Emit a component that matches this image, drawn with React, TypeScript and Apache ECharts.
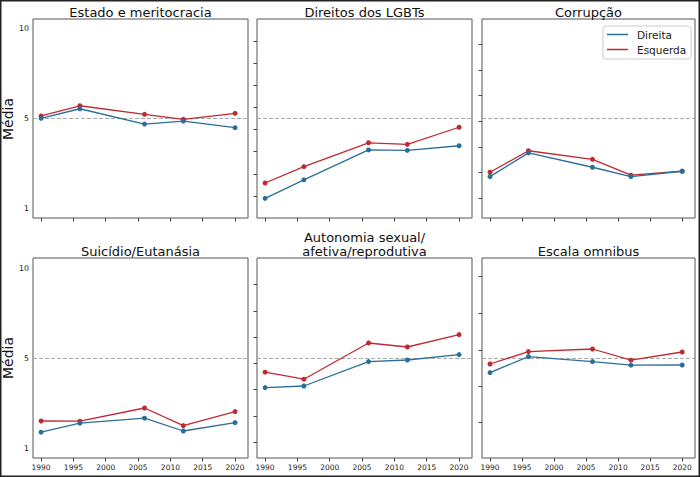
import React, { useEffect, useRef } from "react";
import * as echarts from "echarts";

const years = [1990, 1996, 2006, 2012, 2020];
const xTickValues = [1990, 1995, 2000, 2005, 2010, 2015, 2020];
const yLabelValues = [1, 5.5, 10];
const yLabelTexts = ["1", "5", "10"];
const midLine = 5.5;

const titles = [
  "Estado e meritocracia",
  "Direitos dos LGBTs",
  "Corrupção",
  "Suicídio/Eutanásia",
  "Autonomia sexual/\nafetiva/reprodutiva",
  "Escala omnibus",
];

const direitaEstado = [5.51, 5.99, 5.22, 5.37, 5.04];
const esquerdaEstado = [5.63, 6.14, 5.71, 5.46, 5.76];
const direitaLGBT = [1.49, 2.42, 3.92, 3.9, 4.13];
const esquerdaLGBT = [2.26, 3.08, 4.28, 4.2, 5.06];
const direitaCorrupcao = [2.58, 3.77, 3.05, 2.58, 2.85];
const esquerdaCorrupcao = [2.8, 3.88, 3.45, 2.65, 2.85];
const direitaSuicidio = [1.79, 2.24, 2.49, 1.85, 2.27];
const esquerdaSuicidio = [2.35, 2.34, 3.0, 2.12, 2.82];
const direitaAutonomia = [4.02, 4.1, 5.32, 5.4, 5.67];
const esquerdaAutonomia = [4.79, 4.44, 6.25, 6.05, 6.67];
const direitaOmnibus = [4.77, 5.57, 5.32, 5.14, 5.15];
const esquerdaOmnibus = [5.2, 5.82, 5.95, 5.39, 5.8];

const ticksLGBT = [1.61, 2.72, 3.83, 4.94, 6.06, 7.17, 8.28, 9.39];
const ticksCorrupcao = [1.49, 2.78, 4.07, 5.34, 6.65, 7.94, 9.23];
const ticksAutonomia = [1.3, 2.6, 3.95, 5.25, 6.55, 7.85, 9.2];
const ticksOmnibus = [2.27, 4.1, 5.9, 7.73, 9.57];

const direitaAll = [direitaEstado, direitaLGBT, direitaCorrupcao, direitaSuicidio, direitaAutonomia, direitaOmnibus];
const esquerdaAll = [esquerdaEstado, esquerdaLGBT, esquerdaCorrupcao, esquerdaSuicidio, esquerdaAutonomia, esquerdaOmnibus];
const yTicksAll: (number[] | null)[] = [null, ticksLGBT, ticksCorrupcao, null, ticksAutonomia, ticksOmnibus];

const BLUE = "#2a6f9b";
const RED = "#bf2a32";
const FONT = "DejaVu Sans";

export default function App() {
  const ref = useRef<HTMLDivElement>(null);
  useEffect(() => {
    const chart = echarts.init(ref.current!, null, { renderer: "svg" });
    const lefts = [33, 257, 482];
    const widths = [215, 215, 213];
    const tops = [19, 258];
    const heights = [199, 200];

    const grids: any[] = [];
    const xAxes: any[] = [];
    const yAxes: any[] = [];
    const series: any[] = [];
    const graphics: any[] = [];

    for (let i = 0; i < 6; i++) {
      const r = Math.floor(i / 3);
      const c = i % 3;
      grids.push({
        left: lefts[c],
        top: tops[r],
        width: widths[c],
        height: heights[r],
        show: true,
        borderColor: "#555",
        borderWidth: 1,
        backgroundColor: "#fff",
        containLabel: false,
      });
      xAxes.push({
        type: "value",
        gridIndex: i,
        min: 1988.75,
        max: 2022,
        splitLine: { show: false },
        axisLine: { show: false },
        axisTick: {
          show: true,
          customValues: xTickValues,
          length: 3.5,
          lineStyle: { color: "#444", width: 1 },
        },
        axisLabel: {
          show: r === 1,
          customValues: xTickValues,
          formatter: (v: number) => String(v),
          fontSize: 7.5,
          fontFamily: FONT,
          color: "#222",
          margin: 5,
        },
      });
      const ticks = yTicksAll[i];
      yAxes.push({
        type: "value",
        gridIndex: i,
        min: 0.5,
        max: 10.5,
        splitLine: { show: false },
        axisLine: { show: false },
        axisTick: ticks
          ? { show: true, customValues: ticks, length: 3.5, lineStyle: { color: "#444", width: 1 } }
          : { show: false },
        axisLabel:
          c === 0
            ? {
                show: true,
                customValues: yLabelValues,
                formatter: (v: number) => {
                  const k = yLabelValues.indexOf(v);
                  return k >= 0 ? yLabelTexts[k] : "";
                },
                fontSize: 7.8,
                fontFamily: FONT,
                color: "#222",
                margin: 4,
              }
            : { show: false },
      });
      series.push({
        type: "line",
        name: "Esquerda",
        xAxisIndex: i,
        yAxisIndex: i,
        data: years.map((y, j) => [y, esquerdaAll[i][j]]),
        color: RED,
        symbol: "circle",
        symbolSize: 5,
        showSymbol: true,
        lineStyle: { width: 1.3, color: RED },
        itemStyle: { color: RED },
        z: 3,
        markLine: {
          silent: true,
          symbol: ["none", "none"],
          label: { show: false },
          lineStyle: { type: [4, 2], color: "#aaaaaa", width: 1 },
          data: [{ yAxis: midLine }],
          z: 1,
        },
      });
      series.push({
        type: "line",
        name: "Direita",
        xAxisIndex: i,
        yAxisIndex: i,
        data: years.map((y, j) => [y, direitaAll[i][j]]),
        color: BLUE,
        symbol: "circle",
        symbolSize: 5,
        showSymbol: true,
        lineStyle: { width: 1.3, color: BLUE },
        itemStyle: { color: BLUE },
        z: 4,
      });
      const cx = lefts[c] + widths[c] / 2;
      const cy = r === 0 ? 12 : i === 4 ? 244 : 251;
      graphics.push({
        type: "text",
        x: cx,
        y: cy,
        style: {
          text: titles[i],
          fontSize: 13,
          fontFamily: FONT,
          fill: "#111",
          align: "center",
          verticalAlign: "middle",
          lineHeight: 14,
        },
      });
    }

    graphics.push({
      type: "text",
      x: 8,
      y: 119,
      rotation: Math.PI / 2,
      style: { text: "Média", fontSize: 14, fontFamily: FONT, fill: "#111", align: "center", verticalAlign: "middle" },
    });
    graphics.push({
      type: "text",
      x: 8,
      y: 358,
      rotation: Math.PI / 2,
      style: { text: "Média", fontSize: 14, fontFamily: FONT, fill: "#111", align: "center", verticalAlign: "middle" },
    });
    graphics.push({
      type: "rect",
      shape: { x: 0.75, y: 0.75, width: 698.5, height: 475.5 },
      style: { fill: "none", stroke: "#222", lineWidth: 1.5 },
      silent: true,
    });

    chart.setOption({
      animation: false,
      backgroundColor: "#fff",
      grid: grids,
      xAxis: xAxes,
      yAxis: yAxes,
      series,
      legend: {
        data: ["Direita", "Esquerda"],
        orient: "vertical",
        left: 603,
        top: 26,
        icon: "rect",
        itemWidth: 21,
        itemHeight: 1.5,
        itemGap: 4,
        padding: [3, 5, 4, 4],
        borderColor: "#cccccc",
        borderWidth: 1,
        borderRadius: 3,
        backgroundColor: "#ffffff",
        textStyle: { fontSize: 10.5, fontFamily: FONT, color: "#222", padding: [0, 0, 0, 4] },
      },
      graphic: graphics,
    });
    return () => chart.dispose();
  }, []);
  return (
    <div
      ref={ref}
      style={{ position: "absolute", left: 0, top: 0, width: 700, height: 477, background: "#fff" }}
    />
  );
}
